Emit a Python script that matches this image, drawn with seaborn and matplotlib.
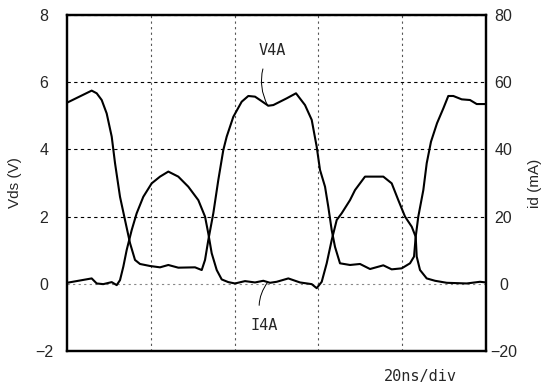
import matplotlib
matplotlib.use("Agg")
import matplotlib.pyplot as plt
import seaborn as sns
import pandas as pd

# time axis in ns (20 ns/div, 5 div)
t_v = [0, 5.89, 7.09, 8.28, 9.47, 10.67, 11.46, 12.65, 13.84, 15.04, 16.23, 17.42,
       19.81, 22.20, 24.18, 26.56, 30.55, 32.15, 32.94, 33.72, 34.92, 36.11, 37.30,
       38.11, 39.69, 41.69, 43.27, 44.87, 46.06, 48.04, 49.24, 52.43, 54.65, 56.80,
       58.40, 59.59, 60.38, 61.58, 62.36, 63.17, 63.96, 65.15, 67.54, 69.93, 72.32,
       75.49, 77.49, 79.88, 81.86, 82.82, 83.22, 83.84, 85.04, 85.85, 86.87, 88.31,
       89.81, 91.00, 92.20, 94.20, 96.18, 97.78, 100]
vds = [5.39, 5.75, 5.67, 5.47, 5.07, 4.38, 3.59, 2.59, 1.90, 1.21, 0.71, 0.59,
       0.53, 0.49, 0.56, 0.48, 0.49, 0.41, 0.71, 1.30, 2.10, 3.09, 3.98,
       4.38, 4.97, 5.42, 5.59, 5.57, 5.47, 5.30, 5.32, 5.52, 5.67, 5.32,
       4.88, 4.08, 3.39, 2.89, 2.29, 1.60, 1.10, 0.61, 0.56, 0.59, 0.44,
       0.55, 0.43, 0.46, 0.61, 0.81, 1.40, 2.00, 2.79, 3.59, 4.23, 4.78,
       5.22, 5.59, 5.59, 5.49, 5.47, 5.35, 5.35]

t_i = [0, 5.89, 7.09, 8.66, 10.67, 11.86, 12.65, 13.44, 14.25, 15.44, 16.63, 18.21,
       20.21, 22.20, 24.18, 26.56, 28.95, 31.34, 32.94, 33.72, 34.53, 35.73, 36.92,
       38.50, 40.10, 42.48, 44.87, 46.85, 48.45, 50.05, 52.82, 55.61, 58.40, 59.59,
       60.79, 61.98, 63.17, 64.37, 65.56, 67.54, 68.74, 71.12, 75.49, 77.49, 79.07,
       80.67, 82.27, 83.22, 83.46, 84.25, 85.85, 87.83, 90.62, 95.39, 98.57, 100]
i_d = [0.3, 1.6, 0.1, -0.1, 0.5, -0.4, 1.1, 5.1, 10.1, 16.0, 21.0, 25.9,
       29.9, 31.9, 33.4, 31.9, 28.9, 24.9, 20.0, 15.0, 9.1, 4.1, 1.3,
       0.5, 0.1, 0.8, 0.4, 0.9, 0.3, 0.6, 1.6, 0.4, -0.1, -1.3,
       0.6, 6.1, 13.0, 19.0, 21.0, 24.9, 27.9, 31.9, 31.9, 29.9, 24.9,
       20.0, 17.0, 14.0, 8.1, 4.1, 1.6, 0.9, 0.3, 0.1, 0.6, 0.4]

v_ticks = [-2, 0, 2, 4, 6, 8]
i_ticks = [-20, 0, 20, 40, 60, 80]
x_grid = [20, 40, 60, 80]

sns.set_style("white")
plt.rcParams["font.family"] = ["Liberation Sans", "DejaVu Sans"]

fig = plt.figure(figsize=(5.47, 3.89), dpi=100)
ax = fig.add_axes([0.1225, 0.0977, 0.766, 0.8637])
ax2 = ax.twinx()

df_v = pd.DataFrame({"t": t_v, "v": vds})
df_i = pd.DataFrame({"t": t_i, "i": i_d})
sns.lineplot(data=df_v, x="t", y="v", ax=ax, color="black", lw=1.5, sort=False)
sns.lineplot(data=df_i, x="t", y="i", ax=ax2, color="black", lw=1.5, sort=False)

ax.set_xlim(0, 100)
ax.set_ylim(-2, 8)
ax2.set_ylim(-20, 80)
ax.set_yticks(v_ticks)
ax2.set_yticks(i_ticks)
ax.set_yticklabels([str(v).replace("-", "\u2212") for v in v_ticks], ha="center")
ax2.set_yticklabels([str(v).replace("-", "\u2212") for v in i_ticks], ha="center")
ax.set_xticks(x_grid)
ax.set_xticklabels([])
ax.tick_params(axis="both", length=0, labelsize=11.5, pad=16.5)
ax2.tick_params(axis="both", length=0, labelsize=11.5, pad=12.5)
ax.set_xlabel("")
ax.set_ylabel("Vds (V)", fontsize=11)
ax2.set_ylabel("id (mA)", fontsize=11)
ax.yaxis.set_label_coords(-0.107, 0.5)
ax2.yaxis.set_label_coords(1.100, 0.5)

ax.grid(True, color="black", linestyle=(0, (3, 3)), lw=0.8)
ax2.grid(False)
for gl in ax.get_xgridlines():
    gl.set_color("#555555")
    gl.set_linestyle((0, (2, 3)))
for gl, v in zip(ax.get_ygridlines(), v_ticks):
    if v == 0:
        gl.set_color("#888888")
        gl.set_linestyle((0, (2, 3)))

for a in (ax, ax2):
    for s in a.spines.values():
        s.set_linewidth(1.6)
        s.set_color("black")

mono = "DejaVu Sans Mono"
ax.annotate("V4A", xy=(47.9, 5.3), xytext=(48.9, 6.95), fontsize=11, family=mono,
            ha="center", va="center",
            arrowprops=dict(arrowstyle="-", lw=0.7, color="black",
                            shrinkA=6, shrinkB=0,
                            connectionstyle="arc3,rad=0.3"))
ax.annotate("I4A", xy=(47.9, 0.05), xytext=(47.0, -1.25), fontsize=11, family=mono,
            ha="center", va="center",
            arrowprops=dict(arrowstyle="-", lw=0.7, color="black",
                            shrinkA=7, shrinkB=0,
                            connectionstyle="arc3,rad=-0.3"))
ax.text(0.93, -0.075, "20ns/div", transform=ax.transAxes, fontsize=11, family=mono,
        ha="right", va="center")

fig.savefig("out.png", dpi=100)
